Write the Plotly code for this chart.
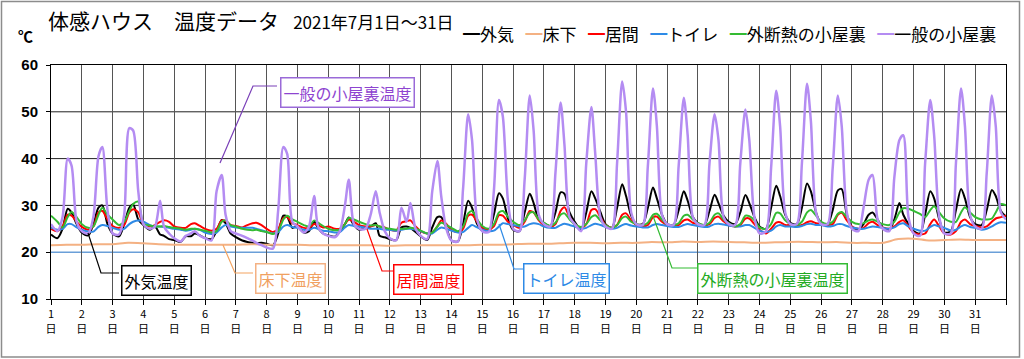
import plotly.graph_objects as go

# ---------------- data ----------------
DAYS = list(range(1, 32))
HOURS = [0, 5, 9, 13, 16, 20]          # sample hours for each day
FLOOR_HOURS = [0, 12]                  # floor series is nearly flat
DAY_LABELS = [f"{d}<br>日" for d in DAYS]
SERIES_NAMES = ["外気", "床下", "居間", "トイレ", "外断熱の小屋裏", "一般の小屋裏"]
Y_TICKS = [10, 20, 30, 40, 50, 60]

OUTSIDE = [
    [23.8, 23.0, 25.0, 29.3, 28.5, 26.0], [24.2, 23.6, 26.0, 29.5, 30.0, 26.0],
    [24.0, 23.4, 26.0, 29.5, 30.2, 27.0], [25.8, 24.8, 25.5, 23.8, 23.5, 22.8],
    [22.6, 22.2, 23.4, 23.4, 24.0, 23.6], [23.0, 22.8, 24.5, 26.9, 26.2, 24.0],
    [23.2, 22.5, 22.2, 22.0, 21.9, 22.0], [21.8, 21.5, 24.0, 27.8, 27.6, 25.2],
    [25.5, 24.2, 24.5, 26.5, 25.2, 24.0], [23.6, 23.3, 24.5, 26.0, 27.4, 25.8],
    [24.8, 25.2, 25.5, 26.2, 23.5, 23.2], [22.8, 22.6, 25.3, 25.5, 25.2, 24.3],
    [23.4, 22.6, 25.3, 27.5, 27.5, 25.2], [22.5, 22.3, 26.0, 31.0, 29.5, 26.0],
    [24.6, 24.5, 28.0, 32.6, 31.5, 27.2], [24.8, 24.5, 28.5, 32.5, 30.5, 27.0],
    [26.2, 25.6, 28.5, 32.8, 32.5, 28.5], [26.5, 24.8, 28.5, 33.0, 31.5, 28.6],
    [26.0, 25.2, 29.5, 34.5, 32.0, 27.8], [26.0, 26.0, 29.5, 33.8, 31.5, 28.0],
    [26.0, 25.9, 29.0, 33.0, 31.0, 27.5], [26.2, 25.8, 28.8, 32.3, 30.5, 27.8],
    [26.5, 26.0, 28.5, 32.2, 30.5, 27.5], [25.5, 25.0, 29.5, 34.2, 32.0, 28.0],
    [26.3, 26.0, 29.5, 34.7, 33.0, 28.5], [26.0, 26.0, 29.0, 33.2, 33.5, 28.0],
    [25.4, 24.8, 26.0, 28.0, 28.5, 27.0], [25.2, 24.7, 27.0, 30.5, 28.0, 26.0],
    [24.5, 24.0, 28.0, 33.0, 31.5, 27.0], [24.2, 24.5, 29.0, 33.5, 31.5, 27.5],
    [26.0, 25.8, 29.0, 33.3, 32.0, 28.8],
]
OUTSIDE_END = 27.6

FLOOR = [
    [21.5, 21.6], [21.6, 21.7], [21.7, 22.0], [21.9, 21.7], [21.6, 21.6],
    [21.6, 21.6], [21.6, 21.7], [21.6, 21.6], [21.6, 21.5], [21.5, 21.5],
    [21.5, 21.5], [21.4, 21.5], [21.5, 21.5], [21.5, 21.5], [21.6, 21.6],
    [21.7, 21.8], [21.8, 21.9], [22.0, 22.0], [21.9, 22.0], [22.0, 22.2],
    [22.1, 22.3], [22.2, 22.3], [22.2, 22.1], [22.0, 22.1], [22.2, 22.2],
    [22.1, 22.2], [22.0, 22.0], [22.0, 22.8], [22.9, 22.5], [22.6, 22.7],
    [22.6, 22.6],
]
FLOOR_END = 22.6

LIVING = [
    [25.0, 24.5, 25.5, 28.0, 27.8, 26.5], [25.4, 24.8, 25.5, 28.5, 28.8, 27.0],
    [25.6, 25.2, 25.8, 28.5, 29.2, 28.5], [26.0, 25.5, 25.8, 26.5, 26.8, 26.5],
    [25.5, 25.2, 25.2, 26.0, 26.2, 25.6], [25.0, 24.6, 25.0, 26.8, 26.7, 25.8],
    [25.6, 25.3, 25.8, 26.2, 26.3, 25.8], [25.0, 24.3, 25.0, 27.3, 27.5, 26.2],
    [25.8, 25.2, 25.2, 26.0, 25.8, 25.3], [25.5, 25.0, 25.0, 26.0, 27.0, 26.5],
    [25.8, 25.5, 25.5, 25.8, 25.5, 25.3], [24.8, 24.6, 26.3, 26.6, 26.8, 25.5],
    [24.5, 24.0, 24.2, 25.5, 26.8, 26.0], [24.8, 24.3, 25.0, 27.8, 28.0, 26.5],
    [25.2, 24.8, 25.5, 27.9, 27.8, 26.5], [25.8, 25.2, 26.5, 28.8, 28.5, 26.8],
    [25.8, 25.4, 26.0, 28.8, 29.6, 27.5], [26.0, 25.2, 26.0, 29.0, 29.2, 27.5],
    [25.8, 25.2, 25.8, 28.0, 28.3, 26.8], [25.8, 25.5, 25.8, 27.5, 27.6, 26.5],
    [25.8, 25.6, 25.8, 26.8, 27.0, 26.3], [26.0, 25.7, 26.0, 27.3, 27.6, 26.6],
    [25.8, 25.5, 25.8, 27.2, 27.2, 26.0], [24.8, 24.0, 25.0, 26.3, 26.4, 25.8],
    [25.8, 25.6, 25.8, 26.4, 26.6, 26.2], [26.0, 25.8, 26.0, 28.0, 28.4, 26.8],
    [25.5, 25.0, 25.2, 26.2, 26.5, 25.8], [25.3, 25.0, 25.5, 26.5, 26.8, 25.5],
    [24.2, 23.8, 24.0, 26.0, 27.0, 25.5], [24.0, 23.8, 24.5, 26.5, 27.0, 26.0],
    [25.6, 25.3, 25.5, 26.5, 27.2, 27.5],
]
LIVING_END = 27.8

TOILET = [
    [25.3, 24.8, 25.0, 26.0, 26.0, 25.3], [24.8, 24.4, 24.4, 25.4, 25.8, 25.6],
    [25.2, 24.8, 25.0, 26.0, 26.5, 26.8], [26.5, 25.8, 25.5, 25.5, 25.4, 25.2],
    [25.0, 24.8, 24.6, 24.8, 25.0, 24.8], [24.2, 23.9, 24.2, 25.3, 25.8, 25.5],
    [25.3, 25.2, 25.2, 25.2, 25.0, 24.7], [24.3, 24.0, 24.3, 25.5, 25.8, 25.4],
    [25.2, 24.8, 24.8, 25.2, 25.0, 24.6], [24.5, 24.2, 24.3, 25.3, 25.8, 25.6],
    [25.5, 25.2, 25.0, 25.0, 25.0, 24.8], [24.8, 24.6, 24.8, 25.0, 25.0, 24.8],
    [24.5, 24.0, 24.0, 24.8, 25.3, 25.0], [24.6, 24.2, 24.3, 25.2, 25.8, 25.3],
    [24.8, 24.5, 24.6, 25.5, 26.2, 26.0], [25.8, 25.5, 25.5, 26.0, 26.2, 26.0],
    [25.5, 25.2, 25.2, 25.8, 26.1, 25.8], [25.5, 25.0, 25.2, 25.8, 26.1, 25.8],
    [25.4, 25.0, 25.2, 25.8, 26.0, 25.7], [25.5, 25.3, 25.3, 25.8, 26.0, 25.8],
    [25.6, 25.4, 25.4, 25.8, 26.0, 25.8], [25.6, 25.4, 25.5, 26.0, 26.1, 25.9],
    [25.7, 25.5, 25.5, 25.8, 25.8, 25.2], [24.6, 24.3, 24.6, 25.5, 25.8, 25.5],
    [25.5, 25.4, 25.6, 26.0, 26.1, 25.8], [25.8, 25.5, 25.6, 26.0, 26.0, 25.6],
    [25.3, 25.0, 25.0, 25.3, 25.5, 25.4], [25.2, 25.0, 25.3, 26.0, 26.2, 25.5],
    [25.0, 24.6, 24.6, 25.4, 25.8, 25.5], [25.2, 24.6, 24.8, 25.5, 25.8, 25.4],
    [25.2, 24.8, 25.0, 25.5, 26.0, 26.4],
]
TOILET_END = 26.3

INSULATED_ATTIC = [
    [27.8, 26.5, 25.3, 27.5, 28.6, 27.5], [26.0, 25.2, 25.5, 28.0, 29.5, 28.0],
    [27.0, 25.8, 26.5, 28.8, 30.3, 30.8], [26.0, 25.7, 25.5, 25.5, 25.6, 25.4],
    [25.2, 25.0, 24.8, 25.0, 25.0, 24.8], [24.6, 24.2, 24.5, 26.5, 26.8, 25.8],
    [25.5, 25.0, 24.8, 24.7, 24.8, 24.5], [24.3, 23.9, 24.5, 27.0, 27.8, 27.0],
    [26.5, 25.8, 25.5, 26.8, 26.3, 25.6], [25.0, 24.7, 24.8, 26.0, 27.3, 27.0],
    [26.5, 26.0, 25.7, 25.8, 25.5, 25.2], [25.0, 24.8, 25.0, 25.0, 25.2, 25.0],
    [24.6, 24.0, 24.2, 25.5, 26.3, 25.8], [25.2, 24.5, 25.5, 28.3, 28.8, 27.0],
    [25.6, 25.0, 26.0, 28.5, 28.8, 27.6], [26.5, 25.8, 26.8, 28.4, 28.5, 27.0],
    [26.3, 25.6, 26.3, 28.0, 28.3, 27.0], [26.0, 25.4, 26.0, 27.5, 27.9, 26.8],
    [25.8, 25.2, 25.8, 27.3, 27.6, 26.5], [26.0, 25.8, 26.3, 28.0, 28.2, 27.0],
    [26.0, 25.8, 26.2, 27.8, 28.0, 27.0], [26.2, 25.8, 26.3, 28.0, 28.3, 27.0],
    [26.2, 25.5, 26.0, 27.8, 27.7, 26.8], [25.3, 25.0, 26.0, 28.4, 28.3, 26.8],
    [26.0, 25.8, 26.5, 28.5, 29.0, 27.8], [26.5, 26.0, 26.5, 28.2, 28.6, 27.5],
    [26.5, 26.0, 26.2, 26.8, 27.0, 26.5], [26.0, 25.8, 26.5, 28.5, 29.4, 29.3],
    [28.8, 28.2, 27.5, 29.0, 29.8, 28.5], [27.2, 26.5, 26.5, 28.5, 29.6, 28.5],
    [27.5, 27.0, 27.0, 27.2, 28.5, 30.3],
]
INSULATED_ATTIC_END = 30.0

GENERAL_ATTIC = [
    [26.0, 24.5, 27.5, 40.0, 38.5, 26.5], [24.5, 24.0, 27.5, 40.5, 42.5, 29.0],
    [24.0, 23.8, 28.0, 46.5, 46.0, 33.0], [26.0, 25.0, 25.5, 31.0, 25.5, 24.0],
    [23.0, 22.3, 23.5, 24.0, 24.5, 23.5], [23.0, 22.5, 33.0, 36.5, 28.0, 24.5],
    [24.0, 23.5, 23.0, 22.5, 22.0, 21.5], [21.0, 20.8, 29.0, 42.5, 41.0, 26.5],
    [25.5, 24.2, 25.5, 32.0, 25.5, 24.0], [23.5, 23.2, 24.5, 30.0, 35.5, 26.0],
    [25.0, 25.0, 28.0, 33.0, 28.5, 24.5], [23.0, 22.6, 29.5, 26.5, 30.5, 25.0],
    [23.5, 22.8, 33.0, 39.5, 32.0, 25.0], [22.5, 22.3, 33.5, 49.5, 44.0, 27.0],
    [24.5, 24.3, 33.0, 52.5, 49.0, 31.0], [25.0, 24.5, 35.5, 53.5, 46.0, 28.0],
    [26.0, 25.5, 37.0, 52.0, 43.0, 27.5], [26.0, 24.5, 39.0, 51.0, 41.0, 27.5],
    [25.5, 25.0, 39.0, 56.5, 50.0, 28.5], [26.0, 25.8, 38.5, 55.0, 47.0, 28.0],
    [26.0, 25.8, 38.5, 53.0, 45.0, 27.5], [26.0, 25.8, 39.0, 49.5, 44.0, 27.5],
    [26.0, 25.8, 39.0, 50.5, 44.0, 27.5], [24.0, 24.5, 38.0, 54.5, 47.0, 28.5],
    [26.0, 26.0, 39.0, 56.0, 48.0, 28.5], [26.0, 26.0, 38.0, 53.5, 47.0, 28.5],
    [25.0, 24.5, 29.5, 35.5, 36.5, 27.0], [25.0, 24.5, 36.0, 44.0, 45.0, 27.5],
    [24.0, 23.5, 39.0, 52.5, 45.0, 27.5], [24.0, 24.0, 39.0, 55.0, 47.0, 28.0],
    [25.5, 25.0, 37.0, 53.5, 47.0, 28.5],
]
GENERAL_ATTIC_END = 27.0

# ---------------- styling ----------------
JP = "Noto Sans CJK JP"
COLORS = ["#000000", "#f4b183", "#ff0000", "#2e8ae6", "#33bb33", "#b48cf2"]
WIDTHS = [2, 2, 2, 2, 2, 2.5]

W, H = 1024, 359
ML, MR, MT, MB = 51, 18, 65, 60
PW, PH = W - ML - MR, H - MT - MB


def px_x(px):          # pixel -> paper x
    return (px - ML) / PW


def px_y(py):          # pixel -> paper y
    return (H - MB - py) / PH


def flat(rows, end):
    return [v for r in rows for v in r] + [end]


def xs(hours):
    return [d + h / 24 for d in DAYS for h in hours] + [32]


series = [
    (OUTSIDE, OUTSIDE_END, HOURS),
    (FLOOR, FLOOR_END, FLOOR_HOURS),
    (LIVING, LIVING_END, HOURS),
    (TOILET, TOILET_END, HOURS),
    (INSULATED_ATTIC, INSULATED_ATTIC_END, HOURS),
    (GENERAL_ATTIC, GENERAL_ATTIC_END, HOURS),
]

fig = go.Figure()
for name, (rows, end, hrs), col, w in zip(SERIES_NAMES, series, COLORS, WIDTHS):
    fig.add_trace(go.Scatter(
        x=xs(hrs), y=flat(rows, end), name=name, mode="lines",
        line=dict(color=col, width=w, shape="spline", smoothing=0.8),
        hoverinfo="skip", showlegend=False,
    ))

fig.update_xaxes(
    range=[1, 32], tickvals=list(range(1, 33)), ticktext=DAY_LABELS + [""],
    showgrid=True, gridcolor="#555555", gridwidth=1, automargin=False,
    showline=True, linecolor="#000000", linewidth=1, mirror=True,
    ticks="outside", ticklen=5, tickcolor="#000000", ticklabelstandoff=0,
    tickfont=dict(family=JP, size=11, color="#000000"), zeroline=False,
)
fig.update_yaxes(
    range=[10, 60], tickvals=Y_TICKS,
    showgrid=False, automargin=False,
    showline=True, linecolor="#000000", linewidth=1, mirror=True,
    ticks="outside", ticklen=4, tickcolor="#000000", ticklabelstandoff=5,
    tickfont=dict(family="Liberation Sans", size=15, color="#000000", weight="bold"),
    zeroline=False,
)

shapes = []
# horizontal grid lines; the 20 ℃ line is light blue in the original
for v in Y_TICKS[1:-1]:
    shapes.append(dict(
        type="line", xref="paper", yref="y", x0=0, x1=1, y0=v, y1=v,
        line=dict(color="#6a9fd8" if v == 20 else "#222222",
                  width=1.5 if v == 20 else 1),
        layer="below",
    ))
# outer frame of the picture
shapes.append(dict(type="rect", xref="paper", yref="paper",
                   x0=px_x(1.5), x1=px_x(1019.5), y0=px_y(357), y1=px_y(1.5),
                   line=dict(color="#8c8c8c", width=1.5), layer="below"))

# callout labels: (text, text colour, border colour, box centre px, leader points px)
CALLOUTS = [
    ("外気温度", "#000000", "#000000", (156, 280), [(88, 233), (101, 273), (119, 273)]),
    ("床下温度", "#f0a060", "#f4b183", (290, 278), [(223, 245), (235, 273), (253, 273)]),
    ("居間温度", "#ff0000", "#ff0000", (428, 279), [(367, 229), (382, 271), (393, 271)]),
    ("トイレ温度", "#2e8ae6", "#2e8ae6", (566, 278), [(499, 224), (514, 269), (527, 269)]),
    ("外断熱の小屋裏温度", "#22aa22", "#33bb33", (772, 278), [(653, 216), (672, 268), (697, 268)]),
    ("一般の小屋裏温度", "#8e44d0", "#9a6ad8", (347, 92), [(220, 163), (253, 86), (277, 86)]),
]
LEADER_COLORS = ["#000000", "#f4a460", "#ff0000", "#2e8ae6", "#33bb33", "#7a40b8"]

annotations = []
for (txt, tcol, bcol, (cx, cy), pts), lcol in zip(CALLOUTS, LEADER_COLORS):
    path = "M " + " L ".join(f"{px_x(x)},{px_y(y)}" for x, y in pts)
    shapes.append(dict(type="path", xref="paper", yref="paper", path=path,
                       line=dict(color=lcol, width=1.2)))
    annotations.append(dict(
        text=txt, xref="paper", yref="paper", x=px_x(cx), y=px_y(cy),
        xanchor="center", yanchor="middle", showarrow=False,
        font=dict(family=JP, size=16, color=tcol),
        bgcolor="#ffffff", bordercolor=bcol, borderwidth=1.5, borderpad=2,
    ))

# legend line: coloured dash + series name
legend_text = "&nbsp;&nbsp;&nbsp;".join(
    f"<span style='color:{c}'>━</span>{n}" for n, c in zip(SERIES_NAMES, COLORS)
)
annotations.append(dict(
    text=legend_text, xref="paper", yref="paper", x=px_x(998), y=px_y(33),
    xanchor="right", yanchor="middle", showarrow=False,
    font=dict(family=JP, size=17, color="#000000"),
))

annotations.append(dict(
    text="℃", xref="paper", yref="paper", x=px_x(25), y=px_y(35),
    xanchor="center", yanchor="middle", showarrow=False,
    font=dict(family=JP, size=15, color="#000000", weight="bold"),
))

fig.update_layout(
    width=W, height=H,
    margin=dict(l=ML, r=MR, t=MT, b=MB),
    paper_bgcolor="#ffffff", plot_bgcolor="#ffffff",
    title=dict(
        text="体感ハウス　温度データ&nbsp;&nbsp;&nbsp;<span style='font-size:17px'>2021年7月1日～31日</span>",
        x=48 / W, xanchor="left", xref="container",
        y=1 - 22 / H, yanchor="middle", yref="container",
        font=dict(family=JP, size=21, color="#000000"),
    ),
    shapes=shapes, annotations=annotations,
    showlegend=False,
)

fig.write_html("out.html", config={"displayModeBar": False},
               post_script="document.body.style.margin='0';")
